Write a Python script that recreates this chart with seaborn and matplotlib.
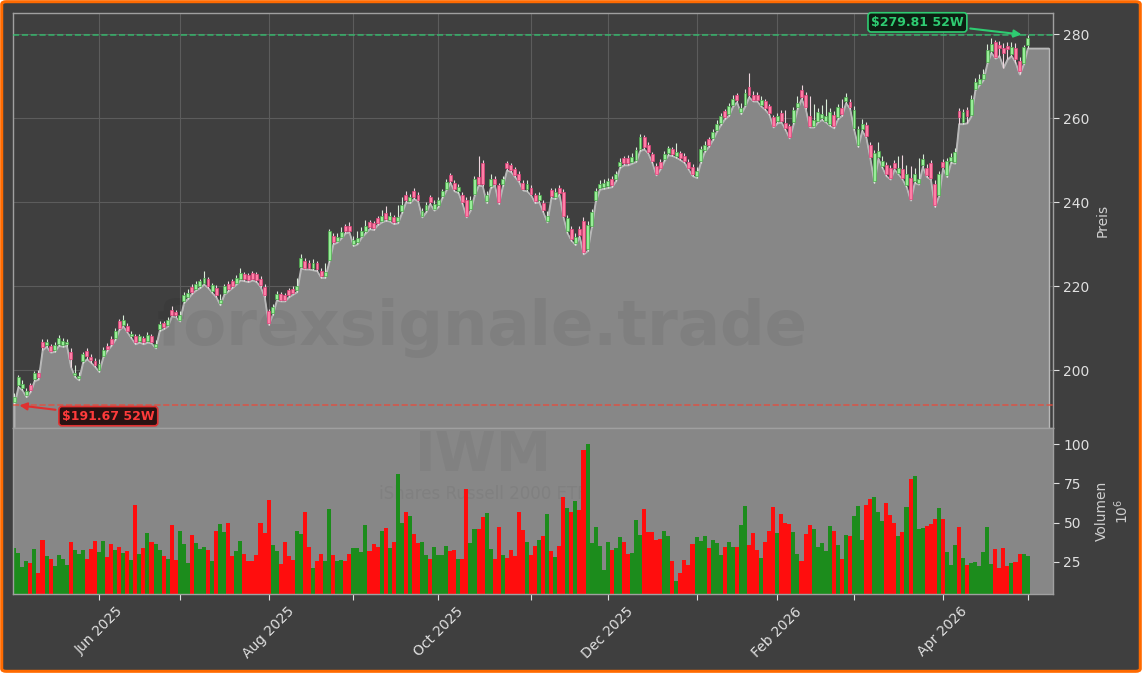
import numpy as np
import pandas as pd
import matplotlib
matplotlib.use("Agg")
import matplotlib.pyplot as plt
from matplotlib.patches import FancyBboxPatch
import seaborn as sns

# IWM Tageskerzen, Mai 2025 - Mai 2026
ticker = "IWM"
fund_name = "iShares Russell 2000 ETF"
watermark = "forexsignale.trade"

holidays = ["2025-05-26", "2025-06-19", "2025-07-04", "2025-09-01", "2025-11-27",
            "2025-12-25", "2026-01-01", "2026-01-19", "2026-02-16", "2026-04-03"]
dates = pd.bdate_range("2025-05-01", "2026-05-01")
dates = dates[~dates.isin(pd.to_datetime(holidays))]

opens = [
    192.3, 196.4, 195.8, 194.0, 196.4, 197.8, 199.3, 206.7, 206.0, 205.8,
    204.8, 206.2, 206.0, 206.3, 204.4, 198.8, 198.0, 202.2, 204.6, 203.2,
    202.2, 200.0, 203.4, 205.8, 207.4, 207.6, 211.6, 210.8, 210.6, 208.0,
    208.0, 207.0, 207.6, 207.0, 208.0, 205.6, 209.8, 211.2, 210.8, 214.4,
    213.8, 212.0, 216.4, 217.4, 219.8, 219.4, 220.0, 220.8, 221.6, 218.8,
    219.6, 215.9, 218.4, 220.6, 221.2, 220.8, 221.8, 222.8, 222.6, 223.0,
    222.8, 221.8, 219.8, 214.0, 213.6, 217.0, 218.0, 217.8, 219.0, 219.4,
    219.0, 224.6, 226.0, 225.6, 224.2, 225.4, 223.6, 222.4, 226.2, 232.0,
    230.8, 231.8, 234.2, 234.4, 230.0, 230.4, 232.0, 233.0, 235.2, 235.0,
    236.2, 235.6, 237.4, 235.8, 236.4, 235.4, 237.8, 241.8, 240.2, 242.6,
    241.8, 236.8, 238.0, 241.2, 238.4, 239.2, 241.4, 243.2, 246.4, 244.6,
    242.6, 241.8, 240.6, 238.4, 242.0, 246.0, 249.4, 240.2, 243.8, 245.6,
    244.0, 244.2, 249.2, 248.8, 247.8, 246.8, 244.6, 243.0, 243.4, 241.6,
    240.4, 239.8, 235.6, 242.8, 241.2, 243.4, 242.4, 233.0, 233.6, 230.2,
    233.6, 235.6, 228.8, 234.4, 240.6, 243.4, 243.6, 243.8, 245.6, 245.4,
    248.6, 250.4, 250.4, 249.6, 250.0, 252.6, 255.4, 253.6, 251.4, 248.6,
    249.6, 250.2, 251.6, 252.6, 251.0, 251.6, 251.0, 249.6, 248.4, 246.2,
    249.8, 252.4, 255.0, 255.2, 257.2, 258.8, 261.6, 261.0, 263.2, 265.4,
    261.4, 263.2, 267.4, 265.6, 265.6, 263.2, 264.0, 262.8, 260.2, 259.2,
    261.2, 258.8, 258.0, 259.0, 262.6, 266.6, 265.4, 260.6, 258.2, 259.4,
    260.0, 259.4, 258.6, 260.8, 260.2, 262.4, 264.0, 263.8, 257.6, 253.6,
    257.4, 258.4, 253.6, 245.0, 250.8, 248.6, 248.8, 248.2, 249.4, 247.0,
    247.8, 244.0, 245.8, 245.0, 244.6, 248.8, 248.2, 249.4, 244.4, 241.8,
    249.6, 246.4, 249.8, 249.6, 261.6, 259.0, 261.8, 260.8, 267.0, 268.2,
    269.4, 273.4, 276.0, 278.0, 277.4, 276.6, 277.2, 275.2, 276.6, 273.6,
    273.2, 277.4]

closes = [
    193.6, 198.4, 196.6, 195.0, 195.3, 199.2, 198.4, 205.5, 206.8, 204.6,
    206.0, 207.6, 207.0, 206.8, 202.6, 199.4, 198.6, 203.8, 203.4, 202.4,
    201.2, 201.4, 204.8, 205.0, 206.2, 209.4, 210.0, 212.0, 209.4, 208.6,
    206.6, 208.0, 206.6, 208.4, 206.8, 206.2, 211.0, 210.2, 212.0, 213.2,
    213.0, 213.0, 217.8, 218.4, 218.6, 220.6, 221.2, 222.0, 220.0, 220.2,
    217.8, 216.8, 220.0, 219.2, 220.0, 222.0, 223.0, 221.6, 221.4, 221.8,
    221.4, 220.2, 217.8, 211.2, 215.0, 218.0, 216.8, 216.8, 217.8, 218.4,
    220.0, 226.6, 224.4, 224.4, 225.4, 224.0, 222.4, 223.4, 233.0, 230.4,
    231.8, 232.8, 233.0, 233.2, 231.0, 231.4, 233.2, 234.2, 234.0, 233.8,
    235.0, 236.6, 236.0, 236.6, 235.2, 236.4, 239.4, 240.4, 241.2, 241.2,
    240.6, 237.8, 239.4, 240.0, 239.6, 240.4, 242.6, 244.8, 245.0, 243.0,
    243.6, 240.0, 236.8, 240.6, 245.6, 244.4, 244.2, 241.8, 245.6, 244.4,
    240.0, 245.4, 248.0, 247.6, 246.4, 245.2, 243.2, 244.2, 242.0, 240.2,
    241.6, 238.0, 236.8, 241.4, 242.4, 242.2, 236.8, 236.2, 231.2, 231.8,
    232.2, 228.0, 234.6, 237.6, 242.6, 244.4, 244.6, 245.0, 244.0, 246.6,
    249.6, 249.2, 249.2, 250.8, 252.4, 255.4, 253.0, 252.0, 249.8, 246.8,
    248.2, 251.4, 252.8, 251.4, 252.0, 250.4, 249.8, 248.2, 246.6, 247.4,
    252.6, 253.6, 253.6, 256.6, 258.6, 260.4, 260.2, 262.8, 264.6, 264.2,
    262.4, 266.0, 265.4, 264.4, 264.4, 264.4, 262.4, 261.2, 258.2, 260.4,
    259.4, 257.6, 255.6, 261.8, 263.6, 265.0, 262.6, 258.2, 259.6, 261.4,
    261.0, 260.6, 261.4, 258.0, 262.6, 261.0, 265.0, 262.6, 262.0, 257.4,
    258.6, 255.8, 250.8, 251.6, 252.2, 249.8, 246.6, 245.8, 248.2, 248.0,
    245.8, 246.8, 240.8, 246.6, 245.4, 250.2, 246.4, 245.8, 239.3, 246.6,
    248.4, 249.8, 250.8, 252.0, 260.2, 261.4, 260.6, 264.6, 268.6, 269.4,
    270.6, 276.2, 277.6, 274.6, 276.6, 275.4, 276.4, 276.8, 274.0, 271.2,
    276.8, 279.0]

highs = [
    194.6, 198.9, 197.6, 195.8, 197.0, 199.8, 199.9, 207.3, 207.4, 206.2,
    206.6, 208.3, 207.6, 207.4, 205.2, 201.2, 199.6, 204.4, 205.2, 203.8,
    202.8, 202.6, 205.4, 206.4, 208.0, 210.0, 212.2, 213.0, 211.2, 209.4,
    208.6, 208.6, 208.2, 209.0, 208.6, 207.2, 211.8, 211.8, 212.6, 215.2,
    214.4, 214.0, 218.6, 219.2, 220.4, 221.2, 221.8, 223.6, 222.2, 220.8,
    220.2, 218.0, 220.6, 221.2, 221.8, 222.6, 224.4, 223.4, 223.2, 223.6,
    223.4, 222.4, 220.4, 214.6, 215.8, 218.8, 218.6, 218.4, 219.6, 220.0,
    222.0, 227.6, 226.6, 226.2, 226.4, 226.0, 224.2, 225.4, 233.6, 232.6,
    232.6, 234.0, 234.8, 235.2, 232.0, 233.0, 234.0, 235.8, 235.8, 235.6,
    236.8, 238.0, 239.0, 237.6, 237.0, 239.2, 241.2, 242.6, 242.0, 243.4,
    242.4, 238.6, 240.0, 241.8, 240.4, 241.2, 243.2, 245.6, 247.0, 245.2,
    244.4, 242.4, 241.2, 241.4, 246.2, 251.0, 250.0, 242.6, 246.6, 246.2,
    244.6, 246.2, 249.8, 249.4, 248.4, 247.4, 245.2, 245.2, 244.0, 242.2,
    242.4, 240.4, 237.8, 243.4, 243.4, 244.0, 243.0, 237.0, 234.2, 232.6,
    234.2, 236.4, 235.4, 238.4, 243.4, 245.2, 245.4, 245.8, 246.2, 247.4,
    250.4, 251.0, 251.2, 251.6, 253.2, 256.2, 256.0, 254.2, 252.0, 249.2,
    250.2, 252.2, 253.4, 253.2, 254.0, 252.2, 251.6, 250.2, 249.0, 248.4,
    253.4, 254.6, 255.6, 257.4, 259.6, 261.2, 262.2, 263.6, 265.4, 266.0,
    263.6, 266.8, 270.8, 266.4, 266.2, 265.2, 264.6, 263.4, 260.8, 261.2,
    261.8, 262.0, 258.6, 262.6, 265.2, 267.8, 266.2, 265.2, 263.4, 262.4,
    263.0, 264.6, 262.4, 261.6, 263.4, 264.6, 266.0, 264.6, 262.8, 258.2,
    259.8, 259.0, 254.2, 252.4, 254.4, 251.0, 249.6, 248.8, 250.0, 251.0,
    251.2, 248.8, 248.6, 248.0, 250.6, 251.4, 249.0, 250.0, 245.2, 247.4,
    250.2, 250.6, 251.6, 252.8, 262.4, 262.2, 262.6, 265.4, 269.6, 270.6,
    271.6, 277.6, 279.0, 278.6, 278.4, 277.8, 278.2, 278.0, 277.8, 274.6,
    277.4, 279.81]

lows = [
    191.67, 196.0, 195.2, 193.6, 194.8, 197.4, 197.8, 204.8, 205.6, 204.2,
    204.4, 205.8, 205.6, 205.8, 200.8, 198.4, 197.6, 201.8, 202.6, 201.8,
    200.8, 199.6, 203.0, 204.6, 205.8, 207.2, 209.6, 210.4, 209.0, 207.6,
    206.2, 206.6, 206.2, 206.6, 206.4, 205.2, 209.4, 209.8, 210.4, 212.8,
    212.6, 211.6, 216.0, 217.0, 218.2, 219.0, 219.6, 220.4, 219.6, 218.4,
    217.4, 215.5, 218.0, 218.8, 219.6, 220.4, 221.4, 221.2, 221.0, 221.4,
    221.0, 219.8, 217.4, 210.8, 213.2, 216.6, 216.4, 216.4, 217.4, 218.0,
    218.6, 224.2, 224.0, 224.0, 223.8, 223.6, 222.0, 222.0, 225.8, 230.0,
    230.4, 231.4, 232.6, 232.8, 229.6, 230.0, 231.6, 232.6, 233.6, 233.4,
    234.6, 235.2, 235.6, 235.4, 234.8, 235.0, 237.4, 240.0, 239.8, 240.8,
    240.2, 236.4, 237.6, 239.6, 238.0, 238.8, 241.0, 242.8, 244.6, 242.6,
    242.2, 239.6, 236.4, 238.0, 241.6, 244.0, 243.8, 239.8, 243.4, 244.0,
    239.6, 243.8, 247.6, 247.2, 246.0, 244.8, 242.8, 242.6, 241.6, 239.8,
    240.0, 237.6, 235.2, 241.0, 240.8, 241.8, 236.4, 232.6, 230.8, 229.8,
    231.8, 227.6, 228.4, 234.0, 240.2, 243.0, 243.2, 243.4, 243.6, 245.0,
    248.2, 248.8, 248.8, 249.2, 249.6, 252.2, 252.6, 251.6, 249.4, 246.4,
    247.8, 249.8, 251.2, 251.0, 250.6, 250.0, 249.4, 247.8, 246.2, 245.8,
    249.4, 252.0, 253.2, 254.8, 256.8, 258.4, 259.8, 260.6, 262.8, 263.8,
    261.0, 262.8, 265.0, 264.0, 264.0, 262.8, 262.0, 260.8, 257.8, 258.8,
    259.0, 257.2, 255.2, 258.6, 262.2, 264.6, 262.2, 257.8, 257.8, 259.0,
    259.6, 259.0, 258.2, 257.6, 259.8, 260.6, 263.6, 262.2, 257.2, 253.2,
    257.0, 255.4, 250.4, 244.6, 250.4, 248.2, 246.2, 245.4, 247.8, 246.6,
    245.4, 243.6, 240.4, 244.6, 244.2, 248.4, 246.0, 245.4, 238.9, 241.4,
    248.0, 246.0, 249.4, 249.2, 258.6, 258.6, 258.8, 260.4, 266.6, 267.8,
    269.0, 273.0, 275.6, 274.2, 274.8, 272.0, 274.0, 274.8, 273.2, 270.4,
    272.8, 276.6]

# Volumen in Mio. Stueck
volumes = [
    33.7, 30.5, 21.6, 25.6, 24.5, 33.0, 18.2, 39.0, 28.8, 26.9,
    22.4, 29.4, 26.9, 23.1, 37.7, 32.6, 30.0, 32.6, 26.9, 33.2,
    38.3, 31.5, 38.3, 28.2, 36.4, 32.6, 34.5, 30.7, 32.0, 26.3,
    61.2, 30.0, 33.9, 43.4, 37.7, 36.4, 32.6, 28.8, 26.9, 48.5,
    26.3, 44.7, 36.4, 24.3, 42.1, 37.0, 33.2, 34.5, 32.6, 25.6,
    44.7, 49.1, 44.0, 49.8, 28.8, 32.0, 38.3, 30.0, 25.6, 25.6,
    29.4, 49.8, 43.4, 64.4, 35.8, 32.0, 23.7, 37.7, 28.8, 26.3,
    44.7, 42.7, 56.8, 34.5, 21.2, 25.6, 30.0, 25.6, 58.7, 29.4,
    25.6, 26.3, 25.6, 30.0, 33.9, 33.7, 31.3, 48.5, 32.0, 36.4,
    34.5, 44.7, 46.6, 33.9, 37.7, 80.9, 49.8, 56.8, 54.2, 42.7,
    37.0, 37.7, 29.4, 26.9, 34.5, 29.4, 29.4, 35.2, 32.0, 32.6,
    26.9, 26.9, 71.4, 37.0, 46.0, 46.0, 53.6, 56.1, 33.2, 26.9,
    47.2, 29.4, 27.5, 32.6, 28.8, 56.8, 45.4, 37.7, 29.4, 35.2,
    39.0, 41.5, 55.5, 32.0, 28.2, 35.2, 66.3, 59.3, 56.8, 63.8,
    58.0, 96.2, 100.0, 37.0, 47.2, 35.2, 19.9, 37.7, 32.6, 33.9,
    40.9, 37.7, 30.0, 30.7, 51.7, 42.1, 58.7, 44.0, 44.0, 39.0,
    39.6, 44.7, 41.5, 25.6, 12.9, 18.0, 26.3, 23.1, 36.4, 40.9,
    38.3, 41.5, 33.9, 39.0, 37.0, 29.4, 34.5, 37.7, 34.5, 34.5,
    48.5, 60.6, 35.8, 43.4, 32.6, 27.5, 37.7, 44.7, 60.0, 43.4,
    55.5, 49.8, 49.1, 44.0, 30.0, 25.6, 42.7, 48.5, 46.0, 34.5,
    37.0, 32.0, 47.9, 44.7, 35.8, 26.9, 42.1, 41.5, 54.2, 60.6,
    39.0, 61.2, 65.0, 66.3, 56.8, 51.1, 62.5, 54.8, 49.8, 41.5,
    44.0, 60.0, 77.8, 79.7, 46.0, 46.6, 47.9, 49.1, 52.3, 59.3,
    52.3, 31.3, 23.1, 35.8, 47.2, 27.5, 23.1, 24.3, 25.0, 22.4,
    31.3, 47.2, 23.7, 33.2, 21.2, 33.9, 22.4, 24.3, 25.0, 30.0,
    30.0, 28.8]

low_52w = min(lows)
high_52w = max(highs)

df = pd.DataFrame({"date": dates, "open": opens, "high": highs, "low": lows,
                   "close": closes, "volume": volumes})
df["idx"] = np.arange(len(df))
df["dir"] = np.where(df["close"] >= df["open"], "up", "down")

sns.set_theme(style="dark", rc={
    "figure.facecolor": "white",
    "axes.facecolor": "#3f3f3f",
    "axes.edgecolor": "#a0a0a0",
    "axes.labelcolor": "#cfcfcf",
    "text.color": "#e0e0e0",
    "xtick.color": "#e0e0e0",
    "ytick.color": "#e0e0e0",
    "grid.color": "#5c5c5c",
})
plt.rcParams["font.family"] = ["DejaVu Sans"]

fig = plt.figure(figsize=(11.42, 6.73), dpi=100)
fig.patches.append(FancyBboxPatch((0.0015, 0.0025), 0.997, 0.995,
                                  boxstyle="round,pad=0,rounding_size=0.004",
                                  transform=fig.transFigure, facecolor="#3f3f3f",
                                  edgecolor="#ff6a00", linewidth=2.2, zorder=-10))

ax = fig.add_axes([0.0114, 0.364, 0.9107, 0.6166])
axv = fig.add_axes([0.0114, 0.1174, 0.9107, 0.2466], sharex=ax)

# --- Preis ---
x = df["idx"].values
tail = 5.3
fill_x = np.append(x, x[-1] + tail)
fill_y = np.append(df["low"].values, df["low"].values[-1])
ax.fill_between(fill_x, fill_y, 150, facecolor="#878787", edgecolor="#b8b8b8",
                linewidth=1.0, zorder=1)
sns.lineplot(x=fill_x, y=fill_y, ax=ax, color="#b8b8b8", linewidth=1.0, zorder=2)

ax.text(0.451, 0.241, watermark, transform=ax.transAxes, ha="center", va="center",
        fontsize=45, fontweight="bold", color="black", alpha=0.06, zorder=2.5)

up = df["dir"] == "up"
wick_col = np.where(up, "#d8ecd8", "#eed6de")
ax.vlines(x, df["low"], df["high"], colors=wick_col, linewidth=0.8, zorder=3)
body_lo = np.minimum(df["open"], df["close"])
body_h = np.maximum(np.abs(df["close"] - df["open"]), 0.35)
ax.bar(x, body_h, bottom=body_lo, width=0.72,
       color=np.where(up, "#98ee98", "#ff7fa6"),
       edgecolor=np.where(up, "#4aa84a", "#e0407a"), linewidth=0.5, zorder=4)

ax.axhline(high_52w, color="#2ecc71", linestyle="--", linewidth=1.2, alpha=0.75, zorder=3)
ax.axhline(low_52w, color="#e74c3c", linestyle="--", linewidth=1.2, alpha=0.8, zorder=3)

i_hi = int(np.argmax(highs))
i_lo = int(np.argmin(lows))
ax.annotate(f"${high_52w:.2f} 52W", xy=(i_hi - 0.8, high_52w), xytext=(-77, 9),
            textcoords="offset points", ha="center", va="center", fontsize=9,
            fontweight="bold", color="#2ecc71", zorder=6,
            bbox=dict(boxstyle="round,pad=0.25", fc="#0d1f12", ec="#2ecc71", lw=1.2),
            arrowprops=dict(arrowstyle="-|>", color="#2ecc71", lw=1.5, mutation_scale=11))
ax.annotate(f"${low_52w:.2f} 52W", xy=(i_lo + 0.6, low_52w), xytext=(66, -8),
            textcoords="offset points", ha="center", va="center", fontsize=9,
            fontweight="bold", color="#ff3b3b", zorder=6,
            bbox=dict(boxstyle="round,pad=0.25", fc="#2a1212", ec="#e03030", lw=1.2),
            arrowprops=dict(arrowstyle="-|>", color="#e03030", lw=1.5, mutation_scale=11))

ax.set_ylim(186.2, 285.0)
ax.set_yticks([200, 220, 240, 260, 280])
ax.yaxis.tick_right()
ax.yaxis.set_label_position("right")
ax.set_ylabel("Preis", fontsize=10, color="#cfcfcf")
ax.tick_params(axis="y", right=True, length=4, width=0.8, labelsize=10, colors="#e0e0e0")
ax.tick_params(axis="x", bottom=False, labelbottom=False)
ax.grid(True, color="#5c5c5c", linewidth=0.8)
ax.set_axisbelow(True)
ax.set_xlabel("")

# --- Volumen ---
axv.set_facecolor("#878787")
sns.barplot(data=df, x="idx", y="volume", hue="dir",
            palette={"up": "#1c8c1c", "down": "#ff0d0d"}, native_scale=True,
            width=1.0, errorbar=None, legend=False, saturation=1, linewidth=0, ax=axv)
axv.text(0.452, 0.83, ticker, transform=axv.transAxes, ha="center", va="center",
         fontsize=40, fontweight="bold", color="black", alpha=0.045, zorder=0.5)
axv.text(0.452, 0.60, fund_name, transform=axv.transAxes, ha="center", va="center",
         fontsize=12, color="black", alpha=0.05, zorder=0.5)

axv.set_ylim(4.6, 110.2)
axv.set_yticks([25, 50, 75, 100])
axv.yaxis.tick_right()
axv.yaxis.set_label_position("right")
axv.set_ylabel("Volumen\n$10^6$", fontsize=10, color="#cfcfcf")
axv.tick_params(axis="y", right=True, length=4, width=0.8, labelsize=10, colors="#e0e0e0")

months = df.groupby(df["date"].dt.to_period("M"))["idx"].min()
tick_pos = months.values[1:]
tick_lab = [p.strftime("%b %Y") if p.month % 2 == 0 else "" for p in months.index[1:]]
axv.set_xticks(tick_pos)
axv.set_xticklabels(tick_lab, rotation=45, ha="center", fontsize=10)
axv.tick_params(axis="x", bottom=True, length=4, width=0.8, colors="#e0e0e0")
axv.set_xlabel("")
axv.set_xlim(-0.3, 257.3)

for a in (ax, axv):
    for s in a.spines.values():
        s.set_color("#a0a0a0")
        s.set_linewidth(1.0)

fig.savefig("out.png", dpi=100)
